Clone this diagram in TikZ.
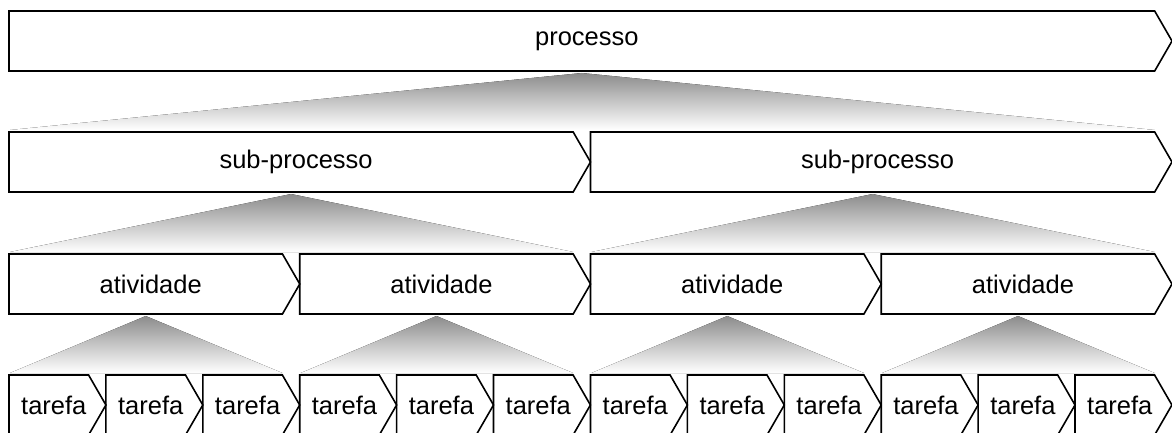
\documentclass[tikz,border=0pt]{standalone}
\usepackage{fontspec}
\setmainfont{Liberation Sans}
\usepackage{tikz}
\usepackage{xcolor}
\usetikzlibrary{shapes.symbols}
\usetikzlibrary{calc}

\tikzset{
	etapa/.style={signal, signal to=east, signal from=nowhere, signal pointer angle=120,
		draw, line width=1.6pt, inner sep=0pt, outer sep=0pt, minimum height=60, anchor=west,
		font=\fontsize{25.5}{30}\selectfont, execute at begin node=\hspace*{10pt}},
	leque/.style={top color=black!45, bottom color=white, draw=none}
}

\begin{document}
\begin{tikzpicture}[x=1pt, y=-1pt]
			\useasboundingbox (0,0) rectangle (1172,433);
			\node[etapa, minimum width=1163] (processo) at (9, 41) {processo};
			\node[etapa, minimum width=581.5] (subprocesso1) at (9, 162) {sub-processo};
			\node[etapa, minimum width=581.5] (subprocesso2) at (590.5, 162) {sub-processo};
			\node[etapa, minimum width=290.75] (atividade1) at (9, 284) {atividade};
			\node[etapa, minimum width=290.75] (atividade2) at (299.75, 284) {atividade};
			\node[etapa, minimum width=290.75] (atividade3) at (590.5, 284) {atividade};
			\node[etapa, minimum width=290.75] (atividade4) at (881.25, 284) {atividade};
			\node[etapa, minimum width=96.9] (tarefa1) at (9, 405) {tarefa};
			\node[etapa, minimum width=96.9] (tarefa2) at (105.9, 405) {tarefa};
			\node[etapa, minimum width=96.9] (tarefa3) at (202.8, 405) {tarefa};
			\node[etapa, minimum width=96.9] (tarefa4) at (299.7, 405) {tarefa};
			\node[etapa, minimum width=96.9] (tarefa5) at (396.6, 405) {tarefa};
			\node[etapa, minimum width=96.9] (tarefa6) at (493.5, 405) {tarefa};
			\node[etapa, minimum width=96.9] (tarefa7) at (590.5, 405) {tarefa};
			\node[etapa, minimum width=96.9] (tarefa8) at (687.4, 405) {tarefa};
			\node[etapa, minimum width=96.9] (tarefa9) at (784.3, 405) {tarefa};
			\node[etapa, minimum width=96.9] (tarefa10) at (881.2, 405) {tarefa};
			\node[etapa, minimum width=96.9] (tarefa11) at (978.1, 405) {tarefa};
			\node[etapa, minimum width=96.9] (tarefa12) at (1075.0, 405) {tarefa};
			\fill[leque] ($(processo.south)+(0,2)$) -- ($(subprocesso2.north east)+(0,-2)$) -- ($(subprocesso1.north west)+(1,-2)$) -- cycle;
			\fill[leque] ($(subprocesso1.south)+(0,2)$) -- ($(atividade2.north east)+(0,-2)$) -- ($(atividade1.north west)+(1,-2)$) -- cycle;
			\fill[leque] ($(subprocesso2.south)+(0,2)$) -- ($(atividade4.north east)+(0,-2)$) -- ($(atividade3.north west)+(1,-2)$) -- cycle;
			\fill[leque] ($(atividade1.south)+(0,2)$) -- ($(tarefa3.north east)+(0,-2)$) -- ($(tarefa1.north west)+(1,-2)$) -- cycle;
			\fill[leque] ($(atividade2.south)+(0,2)$) -- ($(tarefa6.north east)+(0,-2)$) -- ($(tarefa4.north west)+(1,-2)$) -- cycle;
			\fill[leque] ($(atividade3.south)+(0,2)$) -- ($(tarefa9.north east)+(0,-2)$) -- ($(tarefa7.north west)+(1,-2)$) -- cycle;
			\fill[leque] ($(atividade4.south)+(0,2)$) -- ($(tarefa12.north east)+(0,-2)$) -- ($(tarefa10.north west)+(1,-2)$) -- cycle;
		\end{tikzpicture}
\end{document}
